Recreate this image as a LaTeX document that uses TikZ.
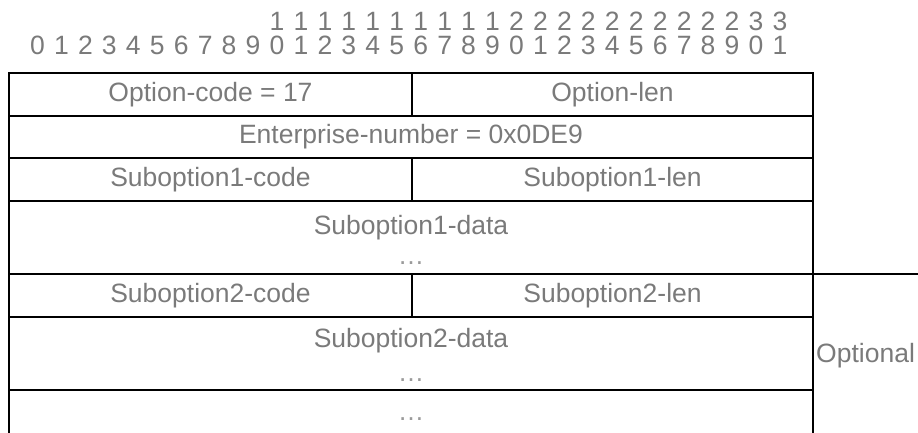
\documentclass[tikz,border=0pt]{standalone}
\usepackage{fontspec}
\setmainfont{Liberation Sans}
\usepackage{xcolor}
\usetikzlibrary{calc}

\definecolor{labelgray}{HTML}{7A7A7A}
\definecolor{dotgray}{HTML}{9A9A9A}

\tikzset{
  field/.style={text=labelgray, font=\fontsize{26.5}{32}\selectfont, anchor=base, inner sep=0pt},
  dots/.style={text=dotgray, font=\fontsize{26.5}{32}\selectfont, anchor=base, inner sep=0pt},
  rule/.style={line width=2.9pt, line cap=rect}
}

\begin{document}
\begin{tikzpicture}[x=1pt, y=-1pt]
  \useasboundingbox (0,0) rectangle (918,432);

  % Define corners of the rows
  \coordinate (L0) at (9,73);    \coordinate (R0) at (813,73);
  \coordinate (L1) at (9,116);   \coordinate (R1) at (813,116);
  \coordinate (L2) at (9,158);   \coordinate (R2) at (813,158);
  \coordinate (L3) at (9,201);   \coordinate (R3) at (813,201);
  \coordinate (L4) at (9,274);   \coordinate (R4) at (813,274);
  \coordinate (L5) at (9,317);   \coordinate (R5) at (813,317);
  \coordinate (L6) at (9,390);   \coordinate (R6) at (813,390);
  \coordinate (L7) at (9,440);   \coordinate (R7) at (813,440);
  \coordinate (E4) at (918,274); % end of the optional line

  % Bit numbers
  \foreach \i in {0,...,31} {
    \pgfmathtruncatemacro{\d}{mod(\i,10)}
    \node[field] (bit\i) at (37.5+23.95*\i,54) {\d};
  }
  \foreach \i in {10,...,31} {
    \pgfmathtruncatemacro{\t}{int(\i/10)}
    \node[field] (tens\i) at (37.5+23.95*\i,30) {\t};
  }

  % Draw the rows
  \draw[rule] (L0) -- (R0);
  \draw[rule] (L1) -- (R1);
  \draw[rule] (L2) -- (R2);
  \draw[rule] (L3) -- (R3);
  \draw[rule] (L4) -- (E4);
  \draw[rule] (L5) -- (R5);
  \draw[rule] (L6) -- (R6);
  \draw[rule] (L0) -- (L7);
  \draw[rule] (R0) -- (R7);

  % Half-word dividers
  \draw[rule] (412,73) -- (412,116);
  \draw[rule] (412,158) -- (412,201);
  \draw[rule] (412,274) -- (412,317);

  % Label fields
  \node[field] (optcode) at (210.5,101) {Option-code = 17};
  \node[field] (optlen) at (612.5,101) {Option-len};
  \node[field] (entnum) at (411,143) {Enterprise-number = 0x0DE9};
  \node[field] (sub1code) at (210.5,186) {Suboption1-code};
  \node[field] (sub1len) at (612.5,186) {Suboption1-len};
  \node[field] (sub1data) at (411,234) {Suboption1-data};
  \node[dots] (sub1dots) at (411,264) {…};
  \node[field] (sub2code) at (210.5,302) {Suboption2-code};
  \node[field] (sub2len) at (612.5,302) {Suboption2-len};
  \node[field] (sub2data) at (411,347) {Suboption2-data};
  \node[dots] (sub2dots) at (411,381) {…};
  \node[dots] (moredots) at (411,420) {…};
  \node[field, anchor=base west] (optional) at (816,362) {Optional};

\end{tikzpicture}
\end{document}
